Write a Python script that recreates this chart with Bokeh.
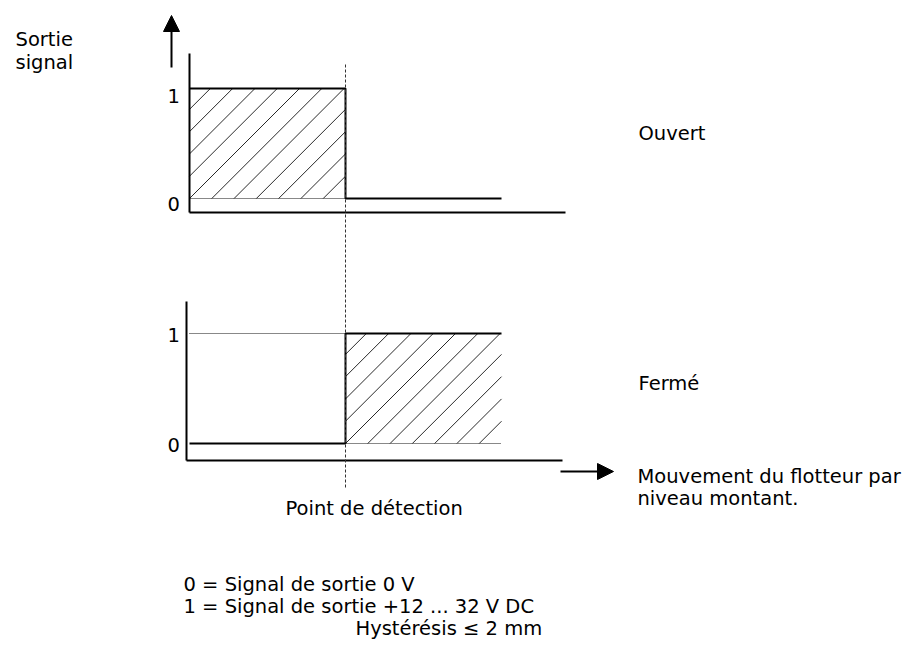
import math
from bokeh.plotting import figure
from bokeh.models import Range1d, Arrow, NormalHead
from bokeh.core.properties import value
from bokeh.embed import file_html
from bokeh.resources import INLINE

# ---------------- data ----------------
travel = [0.0, 1.0, 2.0]          # start of travel, detection point, end of trace
signal_ouvert = [1, 0]            # signal before / after detection point
signal_ferme = [0, 1]
levels = [0, 1]
level_labels = ["0", "1"]
panel_names = ["Ouvert", "Fermé"]
legend_lines = ["0 = Signal de sortie 0 V", "1 = Signal de sortie +12 ... 32 V DC"]
hyst_text = "Hystérésis \u2264 2 mm"
axis_title = ["Sortie", "signal"]
x_title = ["Mouvement du flotteur par", " niveau montant."]
detect_label = "Point de détection"

# ---------------- layout (pixels of the picture) ----------------
W, H = 906, 640
X_UNIT, Y_UNIT = 156.0, 110.0
X0, Y0 = 189.0, 198.0  # pixel of travel 0 / level 0 of first panel
HATCH_STEP = X_UNIT / 7.0  # hatch spacing in pixels (45 degree lines)


def px(x):
    return (x - X0) / X_UNIT


def py(y):
    return (Y0 - y) / Y_UNIT


p = figure(width=W, height=H, output_backend="svg", toolbar_location=None,
           x_axis_type=None, y_axis_type=None, min_border=0,
           x_range=Range1d(px(0), px(W)), y_range=Range1d(py(H), py(0)))
p.grid.visible = False
p.outline_line_color = None
p.background_fill_color = "white"
p.border_fill_color = "white"

FONT = value("DejaVu Sans")
FS = "19.5px"


def hatch(l, r, b, t):
    """45-degree '/' hatch lines clipped to a rectangle given in data units."""
    wpx = (r - l) * X_UNIT
    hpx = (t - b) * Y_UNIT
    x0s, y0s, x1s, y1s = [], [], [], []
    kmin = -int(math.ceil(hpx / HATCH_STEP))
    kmax = int(math.ceil(wpx / HATCH_STEP))
    for k in range(kmin, kmax + 1):
        s = k * HATCH_STEP
        h0 = max(0.0, -s)
        h1 = min(hpx, wpx - s)
        if h1 - h0 > 0.5:
            x0s.append(l + (s + h0) / X_UNIT)
            y0s.append(b + h0 / Y_UNIT)
            x1s.append(l + (s + h1) / X_UNIT)
            y1s.append(b + h1 / Y_UNIT)
    p.segment(x0=x0s, y0=y0s, x1=x1s, y1=y1s, line_color="#111111", line_width=0.9)


panels = [
    dict(sig=signal_ouvert, dy=0.0, ax_dx=0.0, ax_lo=py(212), ax_hi=py(53),
         dotted=[(0, 1, 0)], lab_y=[py(203), py(95)], name_y=py(133)),
    dict(sig=signal_ferme, dy=py(443), ax_dx=px(186), ax_lo=py(460) - py(443), ax_hi=py(301) - py(443),
         dotted=[(0, 1, 1), (1, 2, 0)], lab_y=[py(444), py(334)], name_y=py(383)),
]
axis_end = px(565)

for i, pn in enumerate(panels):
    dy = pn["dy"]
    sig = pn["sig"]
    lo = pn["ax_lo"] + dy
    hi = pn["ax_hi"] + dy
    ax0 = pn["ax_dx"]
    # hatched area where signal = 1
    for k in range(len(sig)):
        if sig[k] == 1:
            hatch(travel[k], travel[k + 1], dy + levels[0], dy + levels[1])
    # dotted reference lines
    for (a, b, lv) in pn["dotted"]:
        p.line(x=[travel[a], travel[b]], y=[dy + levels[lv], dy + levels[lv]],
               line_color="#111111", line_width=1, line_dash="1 1")
    # axes
    p.segment(x0=[ax0, ax0], y0=[lo, lo], x1=[ax0, axis_end + ax0], y1=[hi, lo],
              line_color="black", line_width=2)
    # step signal
    xs = [travel[0], travel[1], travel[1], travel[2]]
    ys = [dy + sig[0], dy + sig[0], dy + sig[1], dy + sig[1]]
    p.line(x=xs, y=ys, line_color="black", line_width=2)
    # level labels
    p.text(x=[px(167)] * 2, y=pn["lab_y"], text=level_labels, text_font=FONT,
           text_font_size=FS, text_baseline="alphabetic", text_align="left", text_color="black")
    # panel name
    p.text(x=[px(638)], y=[pn["name_y"]], text=[panel_names[i]], text_font=FONT,
           text_font_size=FS, text_baseline="alphabetic", text_align="left", text_color="black")

# detection point dashed line
p.line(x=[travel[1], travel[1]], y=[py(64), py(488)], line_color="#333333", line_width=1,
       line_dash="3 2")

# arrows
p.add_layout(Arrow(x_start=px(171), y_start=py(67), x_end=px(171), y_end=py(15),
                   line_color="black", line_width=2,
                   end=NormalHead(size=16, fill_color="black", line_color="black", line_width=1)))
p.add_layout(Arrow(x_start=px(560), y_start=py(471), x_end=px(613), y_end=py(471),
                   line_color="black", line_width=2,
                   end=NormalHead(size=16, fill_color="black", line_color="black", line_width=1)))

# texts
p.text(x=[px(15), px(15)], y=[py(39), py(62)], text=axis_title, text_font=FONT,
       text_font_size=FS, text_baseline="alphabetic", text_align="left", text_color="black")
p.text(x=[px(637), px(637)], y=[py(476), py(498)], text=x_title, text_font=FONT,
       text_font_size=FS, text_baseline="alphabetic", text_align="left", text_color="black")
p.text(x=[px(285)], y=[py(508)], text=[detect_label], text_font=FONT,
       text_font_size=FS, text_baseline="alphabetic", text_align="left", text_color="black")
p.text(x=[px(183), px(183)], y=[py(584), py(606)], text=legend_lines, text_font=FONT,
       text_font_size=FS, text_baseline="alphabetic", text_align="left", text_color="black")
p.text(x=[px(355)], y=[py(628)], text=[hyst_text], text_font=FONT,
       text_font_size=FS, text_baseline="alphabetic", text_align="left", text_color="black")

open("out.html", "w").write(file_html(p, INLINE))
